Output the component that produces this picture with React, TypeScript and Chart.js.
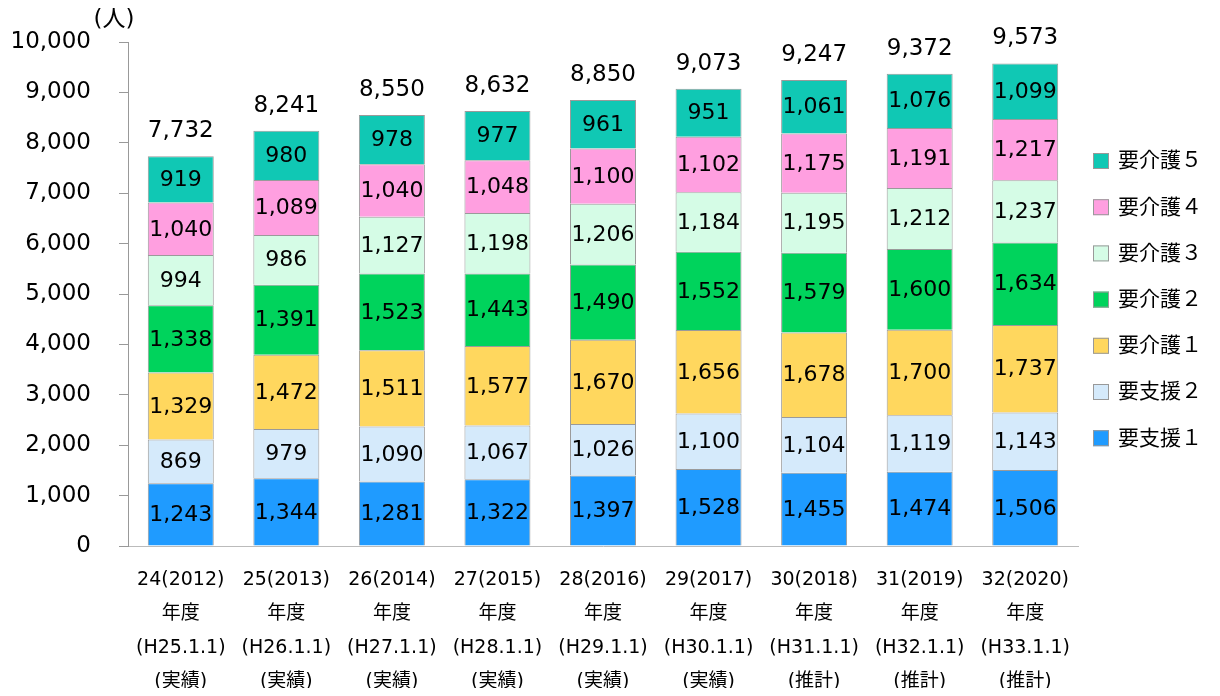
import React, { useEffect, useRef } from "react";
import { Chart, registerables } from "chart.js";

Chart.register(...registerables);

const categories: string[][] = [
  ["24(2012)", "年度", "(H25.1.1)", "(実績)"],
  ["25(2013)", "年度", "(H26.1.1)", "(実績)"],
  ["26(2014)", "年度", "(H27.1.1)", "(実績)"],
  ["27(2015)", "年度", "(H28.1.1)", "(実績)"],
  ["28(2016)", "年度", "(H29.1.1)", "(実績)"],
  ["29(2017)", "年度", "(H30.1.1)", "(実績)"],
  ["30(2018)", "年度", "(H31.1.1)", "(推計)"],
  ["31(2019)", "年度", "(H32.1.1)", "(推計)"],
  ["32(2020)", "年度", "(H33.1.1)", "(推計)"],
];

const youShien1 = [1243, 1344, 1281, 1322, 1397, 1528, 1455, 1474, 1506];
const youShien2 = [869, 979, 1090, 1067, 1026, 1100, 1104, 1119, 1143];
const youKaigo1 = [1329, 1472, 1511, 1577, 1670, 1656, 1678, 1700, 1737];
const youKaigo2 = [1338, 1391, 1523, 1443, 1490, 1552, 1579, 1600, 1634];
const youKaigo3 = [994, 986, 1127, 1198, 1206, 1184, 1195, 1212, 1237];
const youKaigo4 = [1040, 1089, 1040, 1048, 1100, 1102, 1175, 1191, 1217];
const youKaigo5 = [919, 980, 978, 977, 961, 951, 1061, 1076, 1099];
const totals = [7732, 8241, 8550, 8632, 8850, 9073, 9247, 9372, 9573];

const seriesNames = ["要支援１", "要支援２", "要介護１", "要介護２", "要介護３", "要介護４", "要介護５"];
const seriesColors = ["#1F9BFF", "#D5EAFB", "#FFD75E", "#00D35C", "#D5FCE6", "#FF9FE0", "#10C8B4"];
const seriesData = [youShien1, youShien2, youKaigo1, youKaigo2, youKaigo3, youKaigo4, youKaigo5];

const yTicks = [0, 1000, 2000, 3000, 4000, 5000, 6000, 7000, 8000, 9000, 10000];

const NUM_FONT = "'DejaVu Sans', 'Noto Sans CJK JP', sans-serif";
const fmt = (v: number) => v.toLocaleString("en-US");

const labelPlugin = {
  id: "labels",
  afterDatasetsDraw(chart: any) {
    const ctx = chart.ctx;
    ctx.save();
    ctx.fillStyle = "#000";
    ctx.textAlign = "center";
    ctx.textBaseline = "middle";
    ctx.font = `22px ${NUM_FONT}`;
    chart.data.datasets.forEach((ds: any, di: number) => {
      const meta = chart.getDatasetMeta(di);
      meta.data.forEach((el: any, i: number) => {
        const y = (el.y + el.base) / 2;
        ctx.fillText(fmt(ds.data[i]), el.x, y + 1);
      });
    });
    // totals
    const topMeta = chart.getDatasetMeta(chart.data.datasets.length - 1);
    ctx.font = `23px ${NUM_FONT}`;
    topMeta.data.forEach((el: any, i: number) => {
      ctx.fillText(fmt(totals[i]), el.x, el.y - 25);
    });
    // unit
    ctx.font = `23px ${NUM_FONT}`;
    ctx.fillText("(人)", 106, 12);
    // legend
    ctx.textAlign = "left";
    ctx.font = `21px ${NUM_FONT}`;
    const order = [6, 5, 4, 3, 2, 1, 0];
    order.forEach((si, k) => {
      const cy = 153 + k * 46.2;
      ctx.fillStyle = seriesColors[si];
      ctx.fillRect(1085, cy - 8, 16, 16);
      ctx.strokeStyle = "#999";
      ctx.lineWidth = 1;
      ctx.strokeRect(1085.5, cy - 7.5, 15, 15);
      ctx.fillStyle = "#000";
      ctx.fillText(seriesNames[si], 1110, cy + 1);
    });
    ctx.restore();
  },
};

export default function App() {
  const ref = useRef<HTMLCanvasElement | null>(null);
  useEffect(() => {
    if (!ref.current) return;
    const chart = new Chart(ref.current, {
      type: "bar",
      data: {
        labels: categories,
        datasets: seriesData.map((d, i) => ({
          label: seriesNames[i],
          data: d,
          backgroundColor: seriesColors[i],
          borderColor: "#9A9A9A",
          borderWidth: 1,
          barPercentage: 1,
          categoryPercentage: 0.625,
        })),
      },
      options: {
        animation: false,
        responsive: false,
        maintainAspectRatio: false,
        layout: { padding: { top: 34, right: 134, left: 0, bottom: 0 } },
        plugins: { legend: { display: false }, tooltip: { enabled: false } },
        scales: {
          x: {
            stacked: true,
            grid: { display: true, drawOnChartArea: false, drawTicks: false },
            border: { display: true, color: "#BBBBBB", width: 1 },
            ticks: {
              color: "#000",
              padding: 17,
              maxRotation: 0,
              autoSkip: false,
              font: { family: NUM_FONT, size: 19, lineHeight: "34px" as any },
            },
            afterFit: (s: any) => {
              s.height = 142;
              s.paddingLeft = 0;
              s.paddingRight = 0;
            },
          },
          y: {
            stacked: true,
            min: 0,
            max: 10000,
            afterBuildTicks: (s: any) => {
              s.ticks = yTicks.map((v) => ({ value: v }));
            },
            grid: { display: true, drawOnChartArea: false, drawTicks: true, tickLength: 9, color: "#999" },
            border: { display: true, color: "#999", width: 1 },
            ticks: {
              color: "#000",
              padding: 28,
              font: { family: NUM_FONT, size: 23 },
              callback: (v: any) => fmt(Number(v)),
            },
            afterFit: (s: any) => {
              s.width = 120;
              s.paddingTop = 10;
              s.paddingBottom = 0;
            },
          },
        },
      },
      plugins: [labelPlugin],
    });
    return () => chart.destroy();
  }, []);
  return (
    <div style={{ width: 1204, height: 680 }}>
      <canvas ref={ref} width={1204} height={680} style={{ width: 1204, height: 680 }} />
    </div>
  );
}
